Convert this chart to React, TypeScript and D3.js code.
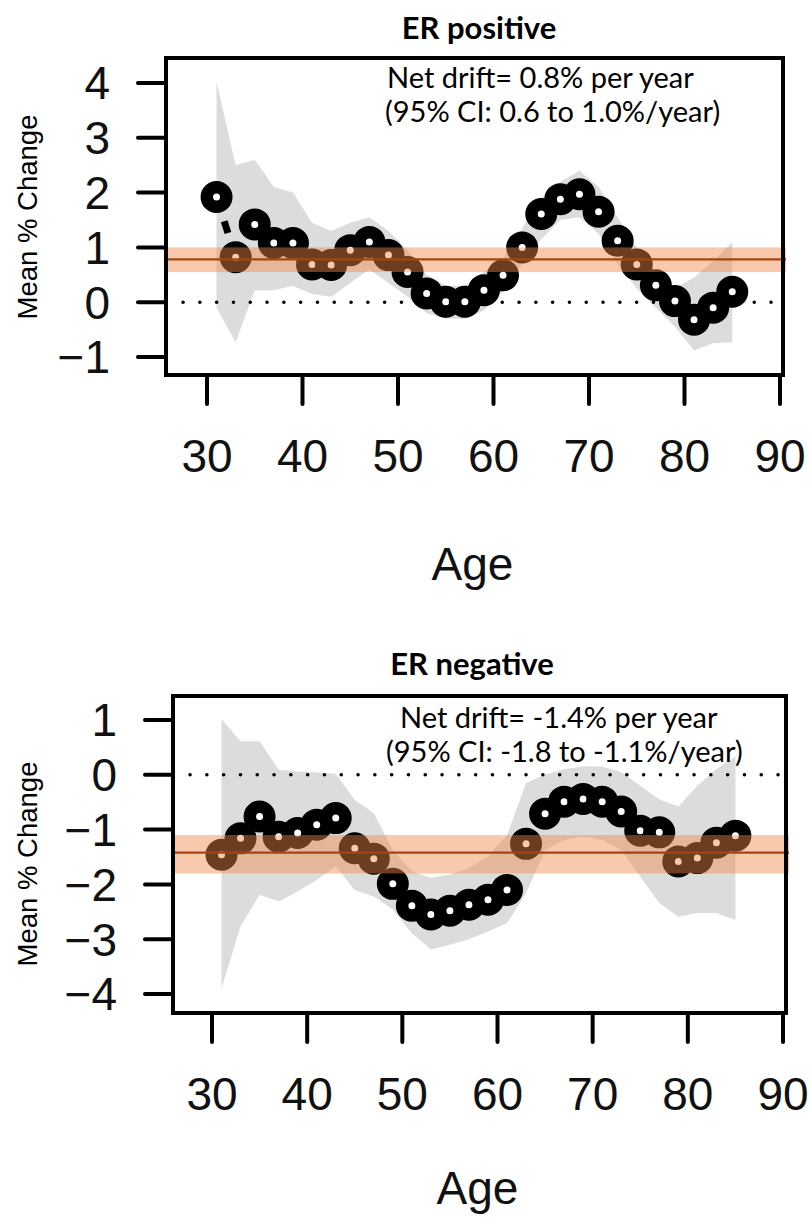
import * as d3 from 'd3';

// age groups (mid-points)
const AGES = [31, 33, 35, 37, 39, 41, 43, 45, 47, 49, 51, 53, 55, 57, 59, 61, 63, 65, 67, 69, 71, 73, 75, 77, 79, 81, 83, 85];
const X_TICKS = [30, 40, 50, 60, 70, 80, 90];

// ER positive
const POS_RATE = [1.92, 0.82, 1.42, 1.08, 1.08, 0.69, 0.68, 0.95, 1.1, 0.86, 0.55, 0.16, 0.01, 0.01, 0.22, 0.49, 1.0, 1.61, 1.88, 1.97, 1.65, 1.12, 0.69, 0.31, 0.02, -0.32, -0.1, 0.19];
const POS_UPPER = [4.02, 2.5, 2.6, 2.1, 2.0, 1.45, 1.3, 1.45, 1.55, 1.3, 0.95, 0.5, 0.3, 0.3, 0.55, 0.8, 1.35, 1.9, 2.2, 2.4, 2.1, 1.55, 1.0, 0.55, 0.25, 0.45, 0.75, 1.1];
const POS_LOWER = [-0.1, -0.73, 0.22, 0.22, 0.3, 0.15, 0.1, 0.35, 0.6, 0.35, 0.1, -0.2, -0.3, -0.3, -0.15, 0.2, 0.7, 1.15, 1.5, 1.55, 1.25, 0.7, 0.25, -0.1, -0.45, -0.88, -0.75, -0.73];
const POS_Y_TICKS = [-1, 0, 1, 2, 3, 4];
const POS_DRIFT = 0.78;
const POS_DRIFT_CI = [0.55, 1.0];

// ER negative
const NEG_RATE = [-1.46, -1.16, -0.76, -1.13, -1.06, -0.91, -0.79, -1.34, -1.53, -1.99, -2.39, -2.55, -2.48, -2.37, -2.28, -2.1, -1.26, -0.71, -0.49, -0.44, -0.49, -0.67, -1.02, -1.05, -1.58, -1.52, -1.24, -1.11];
const NEG_UPPER = [1.02, 0.61, 0.61, 0.09, 0.06, 0.04, 0.02, -0.46, -0.7, -1.37, -1.76, -1.88, -1.82, -1.7, -1.49, -1.1, -0.15, 0.0, 0.1, 0.15, 0.15, 0.05, -0.2, -0.45, -0.58, -0.2, 0.1, 0.33];
const NEG_LOWER = [-3.89, -2.77, -2.19, -2.31, -2.13, -1.92, -1.67, -2.1, -2.22, -2.46, -2.89, -3.19, -3.1, -3.0, -2.86, -2.71, -2.16, -1.37, -1.19, -1.13, -1.19, -1.37, -1.86, -2.34, -2.59, -2.52, -2.52, -2.65];
const NEG_Y_TICKS = [-4, -3, -2, -1, 0, 1];
const NEG_DRIFT = -1.42;
const NEG_DRIFT_CI = [-1.8, -1.1];

const AXIS_FONT = "'Liberation Sans', Arial, sans-serif";
const NOTE_FONT = "Lato, 'Open Sans', sans-serif";

const panels = [
  {
    title: 'ER positive',
    note1: 'Net drift= 0.8% per year',
    note2: '(95% CI: 0.6 to 1.0%/year)',
    rate: POS_RATE, upper: POS_UPPER, lower: POS_LOWER,
    yTicks: POS_Y_TICKS, drift: POS_DRIFT, driftCI: POS_DRIFT_CI,
    xRange: [207, 780], yRange: [357, 83],
    box: { left: 166, right: 783, top: 58, bottom: 375 },
    titlePos: [479, 39], note1Pos: [387, 88], note2Pos: [385, 122],
    yTitleY: 217, ageDy: 205,
  },
  {
    title: 'ER negative',
    note1: 'Net drift= -1.4% per year',
    note2: '(95% CI: -1.8 to -1.1%/year)',
    rate: NEG_RATE, upper: NEG_UPPER, lower: NEG_LOWER,
    yTicks: NEG_Y_TICKS, drift: NEG_DRIFT, driftCI: NEG_DRIFT_CI,
    xRange: [212, 783], yRange: [994, 720],
    box: { left: 173, right: 786, top: 696, bottom: 1013 },
    titlePos: [472, 675], note1Pos: [400, 728], note2Pos: [386, 762],
    yTitleY: 864, ageDy: 191,
  },
];

function Panel({ p }) {
  const yDomain = [p.yTicks[0], p.yTicks[p.yTicks.length - 1]];
  const x = d3.scaleLinear().domain([30, 90]).range(p.xRange);
  const y = d3.scaleLinear().domain(yDomain).range(p.yRange);
  const b = p.box;

  const pts = AGES.map((age, i) => ({ age, v: p.rate[i], lo: p.lower[i], hi: p.upper[i] }));
  const area = d3.area<any>()
    .x(d => x(d.age))
    .y0(d => y(d.lo))
    .y1(d => y(d.hi));

  // type="b" style connectors, only visible where points are far apart
  const gap = 25.5;
  const segs = [];
  for (let i = 1; i < pts.length; i++) {
    const x1 = x(pts[i - 1].age), y1 = y(pts[i - 1].v);
    const x2 = x(pts[i].age), y2 = y(pts[i].v);
    const len = Math.hypot(x2 - x1, y2 - y1);
    if (len > 2 * gap) {
      const ux = (x2 - x1) / len, uy = (y2 - y1) / len;
      segs.push({ x1: x1 + ux * gap, y1: y1 + uy * gap, x2: x2 - ux * gap, y2: y2 - uy * gap });
    }
  }

  const tickFs = 46;

  return (
    <g>
      {/* CI band */}
      <path d={area(pts)} fill="#dcdcdc" />

      {/* zero reference */}
      <line x1={b.left + 17} x2={b.right} y1={y(0)} y2={y(0)}
        stroke="#000" strokeWidth={3.5} strokeLinecap="round" strokeDasharray="0.1 16.7" />

      {segs.map((s, i) => (
        <line key={`s-${i}`} {...s} stroke="#000" strokeWidth={7} />
      ))}

      {pts.map((d, i) => (
        <circle key={`c-${i}`} cx={x(d.age)} cy={y(d.v)} r={9.75}
          fill="#fff" stroke="#000" strokeWidth={12.5} />
      ))}

      {/* net drift */}
      <rect x={b.left} width={b.right + 3 - b.left}
        y={y(p.driftCI[1])} height={y(p.driftCI[0]) - y(p.driftCI[1])}
        fill="rgb(240,135,70)" fillOpacity={0.45} />
      <line x1={b.left} x2={b.right + 3} y1={y(p.drift)} y2={y(p.drift)}
        stroke="#a5460e" strokeWidth={2.2} />

      {/* box */}
      <rect x={b.left} y={b.top} width={b.right - b.left} height={b.bottom - b.top}
        fill="none" stroke="#000" strokeWidth={4} />

      {/* y axis */}
      {p.yTicks.map(t => (
        <g key={`yt-${t}`}>
          <line x1={b.left - 28} x2={b.left} y1={y(t)} y2={y(t)} stroke="#000" strokeWidth={4} strokeLinecap="round" />
          <text x={b.left - 56} y={y(t) + 0.358 * tickFs} textAnchor="end"
            fontFamily={AXIS_FONT} fontSize={tickFs} fill="#111">{d3.format('d')(t)}</text>
        </g>
      ))}
      <text transform={`translate(37,${p.yTitleY}) rotate(-90)`} textAnchor="middle"
        fontFamily={AXIS_FONT} fontSize={27.5} fill="#000">Mean % Change</text>

      {/* x axis */}
      {X_TICKS.map(t => (
        <g key={`xt-${t}`}>
          <line x1={x(t)} x2={x(t)} y1={b.bottom} y2={b.bottom + 29} stroke="#000" strokeWidth={4} strokeLinecap="round" />
          <text x={x(t)} y={b.bottom + 97} textAnchor="middle"
            fontFamily={AXIS_FONT} fontSize={tickFs} fill="#111">{t}</text>
        </g>
      ))}
      <text x={(b.left + b.right) / 2 - 2} y={b.bottom + p.ageDy} textAnchor="middle"
        fontFamily={AXIS_FONT} fontSize={tickFs} fill="#111">Age</text>

      {/* title and annotation */}
      <text x={p.titlePos[0]} y={p.titlePos[1]} textAnchor="middle" fontFamily={NOTE_FONT} fontWeight={700}
        fontSize={31} fill="#000">{p.title}</text>
      <text x={p.note1Pos[0]} y={p.note1Pos[1]} fontFamily={NOTE_FONT} fontSize={29} fill="#000">{p.note1}</text>
      <text x={p.note2Pos[0]} y={p.note2Pos[1]} fontFamily={NOTE_FONT} fontSize={29} fill="#000">{p.note2}</text>
    </g>
  );
}

export default function App() {
  return (
    <svg width={811} height={1222} viewBox="0 0 811 1222"
      style={{ position: 'absolute', left: 0, top: 0, background: '#fff' }}>
      <rect width={811} height={1222} fill="#fff" />
      {panels.map((p, i) => <Panel key={i} p={p} />)}
    </svg>
  );
}
